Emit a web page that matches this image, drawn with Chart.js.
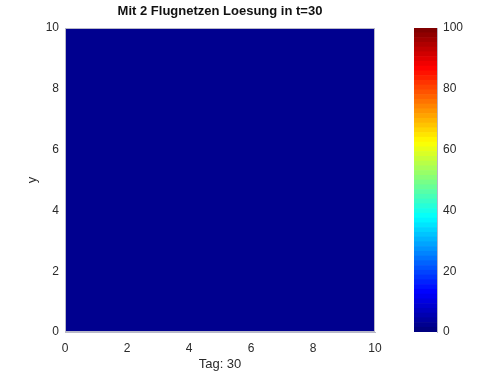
<!DOCTYPE html>
<html>
<head>
<meta charset="utf-8">
<script src="https://cdn.jsdelivr.net/npm/chart.js@4/dist/chart.umd.min.js"></script>
<style>
  body { margin: 0; background: #fff; }
  #wrap { position: relative; width: 500px; height: 373px; }
  #main { position: absolute; left: 0; top: 0; }
  #bar { position: absolute; left: 414px; top: 0; }
</style>
</head>
<body>
<div id="wrap">
  <canvas id="main" width="500" height="373"></canvas>
  <canvas id="bar" width="86" height="373"></canvas>
</div>
<script>
// field values (whole grid at 0 at t=30)
var gridX = [0, 10];
var gridTop = [10, 10];
var xTicks = [0, 2, 4, 6, 8, 10];
var yTicks = [0, 2, 4, 6, 8, 10];
var cbarTicks = [0, 20, 40, 60, 80, 100];
var cbarLevels = 64;
var titleText = 'Mit 2 Flugnetzen Loesung in t=30';

function jet(v) {
    // v in 0..1
    var r = Math.min(Math.max(1.5 - Math.abs(4 * v - 3), 0), 1);
    var g = Math.min(Math.max(1.5 - Math.abs(4 * v - 2), 0), 1);
    var b = Math.min(Math.max(1.5 - Math.abs(4 * v - 1), 0), 1);
    return 'rgb(' + Math.round(r * 255) + ',' + Math.round(g * 255) + ',' + Math.round(b * 255) + ')';
}

var fontFam = '"Liberation Sans", Arial, sans-serif';
var tickColor = '#2a2a2a';
var edge = '#b8b8c8';

var fieldColor = 'rgb(0,0,143)';

new Chart(document.getElementById('main').getContext('2d'), {
    type: 'scatter',
    data: {
        datasets: [{
            data: gridX.map(function(x, i) { return {x: x, y: gridTop[i]}; }),
            showLine: true,
            borderWidth: 0,
            pointRadius: 0,
            fill: 'origin',
            backgroundColor: fieldColor,
            borderColor: fieldColor
        }]
    },
    options: {
        animation: false,
        responsive: false,
        layout: { padding: { left: 0, right: 125, top: 28, bottom: 0 } },
        plugins: {
            legend: { display: false },
            tooltip: { enabled: false },
            title: { display: false }
        },
        scales: {
            x: {
                type: 'linear', min: 0, max: 10,
                afterBuildTicks: function(s) { s.ticks = xTicks.map(function(v) { return {value: v}; }); },
                grid: { display: true, drawOnChartArea: false, tickLength: 0 },
                border: { color: edge },
                ticks: { color: tickColor, font: { family: fontFam, size: 12 }, padding: 9, maxRotation: 0 },
                title: { display: true, text: 'Tag: 30', color: tickColor, font: { family: fontFam, size: 13 }, padding: { top: 0, bottom: 1 } },
                afterFit: function(s) { s.height = 41; }
            },
            y: {
                type: 'linear', min: 0, max: 10,
                afterBuildTicks: function(s) { s.ticks = yTicks.map(function(v) { return {value: v}; }); },
                grid: { display: true, drawOnChartArea: false, tickLength: 0 },
                border: { color: edge },
                ticks: { color: tickColor, font: { family: fontFam, size: 12 }, padding: 6 },
                title: { display: true, text: 'y', color: tickColor, font: { family: fontFam, size: 13 }, padding: { top: 25, bottom: 0 } },
                afterFit: function(s) { s.width = 65; }
            }
        }
    },
    plugins: [{
        id: 'frameAndTitle',
        afterDraw: function(c) {
            var a = c.chartArea, ctx = c.ctx;
            ctx.save();
            ctx.strokeStyle = edge;
            ctx.lineWidth = 1;
            ctx.strokeRect(a.left + 0.5, a.top + 0.5, a.right - a.left - 1, a.bottom - a.top - 1);
            ctx.fillStyle = '#111';
            ctx.font = 'bold 13px ' + fontFam;
            ctx.textAlign = 'center';
            ctx.textBaseline = 'middle';
            ctx.fillText(titleText, (a.left + a.right) / 2, 11);
            ctx.restore();
        }
    }]
});

// colour bar: stacked bands of equal height from 0 to 100
var bandSize = 100 / cbarLevels;
var bands = [];
for (var i = 0; i < cbarLevels; i++) {
    bands.push({
        data: [bandSize],
        backgroundColor: jet(i / (cbarLevels - 1)),
        borderWidth: 0,
        barPercentage: 1,
        categoryPercentage: 1
    });
}

new Chart(document.getElementById('bar').getContext('2d'), {
    type: 'bar',
    data: { labels: [''], datasets: bands },
    options: {
        animation: false,
        responsive: false,
        layout: { padding: { left: 0, right: 0, top: 28, bottom: 41 } },
        plugins: { legend: { display: false }, tooltip: { enabled: false } },
        scales: {
            x: { stacked: true, display: false },
            y: {
                stacked: true, position: 'right', min: 0, max: 100,
                afterBuildTicks: function(s) { s.ticks = cbarTicks.map(function(v) { return {value: v}; }); },
                grid: { display: false },
                border: { color: edge },
                ticks: { color: tickColor, font: { family: fontFam, size: 12 }, padding: -2 },
                afterFit: function(s) { s.width = 63; }
            }
        }
    }
});
</script>
</body>
</html>
